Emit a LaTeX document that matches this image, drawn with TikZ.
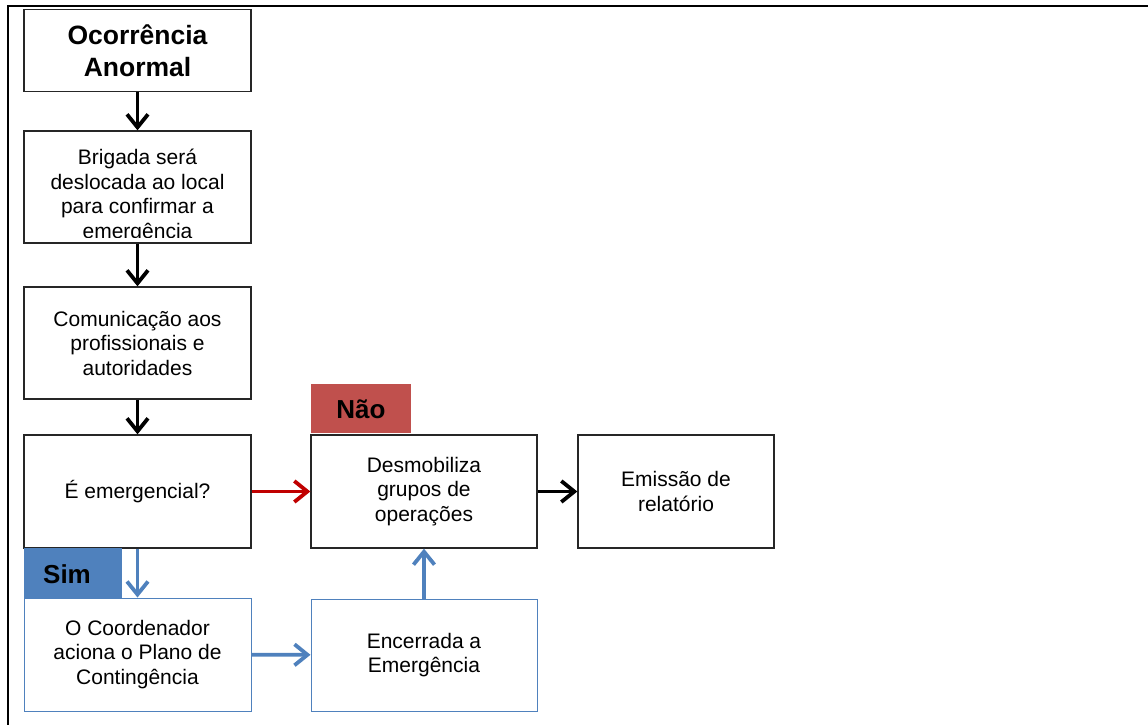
\documentclass[tikz,border=0pt]{standalone}
\usepackage{fontspec}
\setmainfont{Liberation Sans}
\usetikzlibrary{arrows.meta}
\definecolor{lblue}{HTML}{4F81BD}
\definecolor{lred}{HTML}{C0504D}
\definecolor{darr}{HTML}{C00000}
\tikzset{
  box/.style={draw=black!85, line width=1.3pt, inner sep=0pt, align=center,
    font=\fontsize{21}{24.5}\selectfont},
  bbox/.style={box, draw=lblue, line width=1pt},
  txt/.style={inner sep=0pt, align=center, font=\fontsize{21}{24.5}\selectfont},
  lbl/.style={inner sep=0pt, font=\fontsize{26}{31}\selectfont\bfseries},
  arr/.style={line width=3.8pt, -{Straight Barb[length=13pt, width=21pt, line width=3.8pt]}},
}
\begin{document}
\begin{tikzpicture}[x=1pt, y=-1pt]
\useasboundingbox (0,0) rectangle (1148,725);
% frame
\draw[line width=2.5pt] (8,725) -- (8,6) -- (1148,6);
% boxes
\node[box, minimum width=227pt, minimum height=82pt, font=\fontsize{26.5}{31.5}\selectfont\bfseries] (b1) at (137.5,50.5) {Ocorrência\\Anormal};
\begin{scope}
  \clip (24,131) rectangle (251,237);
  \node[txt] (t2) at (137.5,196) {Brigada será\\deslocada ao local\\para confirmar a\\emergência};
\end{scope}
\node[box, minimum width=227pt, minimum height=112pt] (b2) at (137.5,187) {};
\node[box, minimum width=227pt, minimum height=112pt] (b3) at (137.5,343) {Comunicação aos\\profissionais e\\autoridades};
\node[box, minimum width=227pt, minimum height=113pt] (b4) at (137.5,491.5) {É emergencial?};
\node[bbox, minimum width=227pt, minimum height=113pt] (b5) at (137.5,654.5) {O Coordenador\\aciona o Plano de\\Contingência};
\node[box, minimum width=226pt, minimum height=113pt] (b6) at (424,491.5) {Desmobiliza\\grupos de\\operações};
\node[box, minimum width=196pt, minimum height=113pt] (b7) at (676,491.5) {Emissão de\\relatório};
\node[bbox, minimum width=226pt, minimum height=112pt] (b8) at (424,655) {Encerrada a\\Emergência};
% labels
\fill[lred] (311,384) rectangle (411,433);
\node[lbl] (nao) at (361,409) {Não};
\fill[lblue] (24,548) rectangle (122,598);
\node[lbl] (sim) at (67,574) {Sim};
% connectors
\draw[arr] (b1) -- (b2);
\draw[arr] (b2) -- (b3);
\draw[arr] (b3) -- (b4);
\draw[arr, darr] (b4) -- (b6);
\draw[arr] (b6) -- (b7);
\draw[arr, lblue] (b4) -- (b5);
\draw[arr, lblue] (b5) -- (b8);
\draw[arr, lblue] (b8) -- (b6);
\end{tikzpicture}
\end{document}
